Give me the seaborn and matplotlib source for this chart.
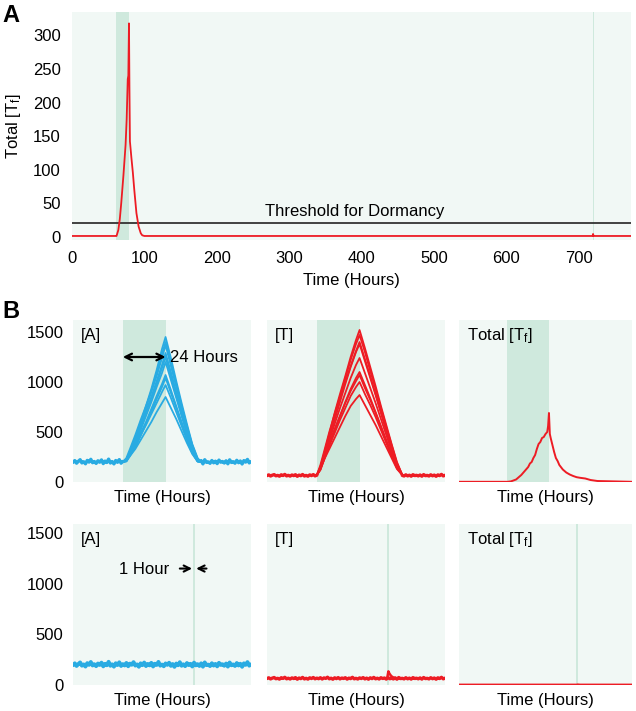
import numpy as np
import pandas as pd
import matplotlib
matplotlib.use("Agg")
import matplotlib.pyplot as plt
import seaborn as sns

# ---- panel A : total [Tf] over the full run ----
a_time = [0, 60, 61.5, 64, 66, 68, 71, 74, 75.5, 77, 77.8, 78.7, 79.3, 80, 81, 82, 84, 86, 89, 92,
          95, 97, 100, 300, 500, 719, 719.6, 720.3, 721, 772]
a_total = [1, 1, 1, 10, 26, 50, 91, 137, 175, 235, 240, 318, 225, 142, 130, 118, 96, 70, 35, 15,
           5, 2, 1, 1, 1, 1, 4, 1, 1, 1]
a_band = (61, 79)
a_pulse = (719.5, 720.5)
threshold = 20
a_xticks = [0, 100, 200, 300, 400, 500, 600, 700]
a_yticks = [0, 50, 100, 150, 200, 250, 300]

# ---- panel B, top row : 24 hour pulse ----
pulse24 = (28, 52)
pulse1 = (67.4, 68.7)

A_times = [28, 30, 32, 35, 38, 41, 44, 47, 50, 52, 55, 58, 61, 64, 67, 70, 72]
A_traces = [
    [200, 215, 300, 420, 590, 760, 930, 1120, 1330, 1450, 1240, 1010, 790, 580, 380, 240, 200],
    [200, 230, 290, 440, 570, 740, 910, 1090, 1280, 1400, 1190, 980, 760, 560, 370, 230, 200],
    [200, 240, 330, 470, 620, 760, 900, 1060, 1240, 1370, 1160, 950, 740, 540, 360, 220, 200],
    [200, 210, 270, 400, 540, 700, 850, 1010, 1170, 1290, 1100, 900, 700, 510, 340, 220, 200],
    [200, 225, 300, 430, 560, 700, 840, 980, 1140, 1250, 1060, 870, 680, 500, 330, 215, 200],
    [200, 210, 280, 390, 520, 660, 800, 950, 1090, 1200, 1020, 840, 660, 480, 320, 210, 200],
    [200, 220, 290, 380, 490, 600, 730, 860, 980, 1070, 920, 760, 600, 450, 300, 210, 200],
    [200, 205, 260, 350, 460, 580, 700, 830, 950, 1040, 890, 740, 590, 440, 300, 205, 200],
    [200, 230, 280, 360, 470, 570, 680, 790, 900, 970, 840, 700, 560, 420, 290, 205, 200],
    [200, 215, 260, 330, 420, 510, 600, 700, 790, 850, 740, 630, 510, 390, 280, 205, 200],
]

T_times = [28, 30, 32, 35, 38, 41, 44, 47, 50, 52, 55, 58, 61, 64, 67, 70, 73, 76]
T_traces = [
    [70, 150, 280, 480, 690, 880, 1060, 1250, 1420, 1520, 1340, 1150, 960, 760, 570, 380, 200, 70],
    [70, 140, 260, 470, 660, 850, 1040, 1220, 1380, 1470, 1300, 1110, 930, 740, 550, 370, 190, 70],
    [70, 170, 300, 500, 680, 850, 1000, 1160, 1310, 1400, 1230, 1060, 880, 700, 520, 340, 180, 70],
    [70, 130, 240, 430, 620, 800, 980, 1150, 1300, 1380, 1210, 1040, 870, 690, 510, 330, 170, 70],
    [70, 140, 250, 420, 580, 740, 890, 1040, 1170, 1240, 1090, 940, 790, 630, 470, 310, 160, 70],
    [70, 120, 220, 380, 520, 660, 800, 930, 1040, 1100, 970, 840, 700, 560, 420, 280, 150, 70],
    [70, 150, 250, 390, 530, 660, 790, 910, 1010, 1070, 940, 820, 690, 550, 410, 270, 140, 70],
    [70, 125, 220, 360, 490, 620, 740, 860, 950, 1000, 880, 770, 650, 520, 390, 260, 140, 70],
    [70, 135, 220, 330, 440, 550, 660, 760, 830, 870, 770, 670, 570, 460, 350, 240, 130, 70],
]

Tf_times = [0, 28, 30, 33, 36, 38, 40, 41, 42, 43, 44, 45, 46, 47, 48, 49, 50, 51, 51.5, 52,
            52.5, 53, 54, 55, 56, 57, 58, 60, 62, 64, 66, 68, 70, 73, 76, 80, 100]
Tf_values = [2, 2, 6, 25, 70, 110, 150, 185, 200, 240, 270, 330, 380, 400, 440, 450, 480, 500, 560, 690,
             480, 440, 370, 300, 240, 210, 170, 125, 95, 75, 60, 48, 42, 35, 20, 10, 2]

# hourly baseline noise, 0..100 h
A_noise = [196, 214, 188, 207, 223, 191, 203, 182, 216, 199,
           227, 193, 205, 186, 212, 198, 221, 184, 209, 195,
           229, 190, 204, 181, 215, 197, 224, 188, 206, 193,
           218, 185, 211, 200, 226, 192, 203, 180, 214, 196,
           222, 187, 208, 194, 219, 183, 210, 198, 228, 191,
           202, 185, 213, 199, 220, 189, 207, 179, 212, 195,
           225, 190, 204, 186, 217, 197, 209, 183, 221, 194,
           206, 188, 214, 181, 223, 196, 201, 187, 215, 192,
           208, 184, 219, 198, 205, 190, 212, 182, 222, 195,
           203, 188, 217, 193, 210, 180, 214, 199, 226, 191,
           204]
T_noise = [64, 71, 60, 68, 74, 62, 66, 58, 72, 65,
           76, 61, 67, 59, 70, 64, 73, 57, 69, 63,
           75, 60, 66, 58, 71, 64, 74, 61, 68, 62,
           72, 59, 70, 65, 77, 61, 67, 57, 71, 63,
           73, 60, 69, 64, 72, 58, 68, 63, 76, 61,
           66, 59, 70, 64, 73, 60, 68, 57, 71, 63,
           75, 61, 67, 59, 72, 64, 69, 58, 73, 62,
           67, 60, 71, 57, 74, 63, 66, 60, 72, 61,
           68, 58, 73, 64, 67, 61, 70, 58, 74, 63,
           66, 60, 72, 62, 69, 57, 71, 64, 76, 61,
           67]

# ---- panel B, bottom row : 1 hour pulse ----
T_bump_t = [67.5, 68.2, 68.8, 69.8, 71.5]
T_bump_v = [66, 135, 112, 88, 68]
Tf_low_t = [0, 68, 68.6, 70, 100]
Tf_low_v = [3, 3, 5, 3, 3]

B_yticks = [0, 500, 1000, 1500]

BG = "#f1f8f5"
BAND = "#cfe9dd"
BLUE = "#29abe2"
RED = "#ed1c24"

sns.set_style("white")
plt.rcParams['font.family'] = ['Liberation Sans', 'DejaVu Sans']
plt.rcParams['mathtext.default'] = 'regular'
plt.rcParams['font.size'] = 12
for key in ["text.color", "axes.labelcolor", "xtick.color", "ytick.color"]:
    plt.rcParams[key] = "black"


def clean(ax):
    ax.set_facecolor(BG)
    for s in ax.spines.values():
        s.set_visible(False)
    ax.tick_params(length=0, labelsize=12, labelcolor="black")


def traces_df(times, traces):
    rows = [(t, v, i) for i, tr in enumerate(traces) for t, v in zip(times, tr)]
    return pd.DataFrame(rows, columns=["t", "v", "trace"])


def noise_df(noise, lo, hi):
    t = np.linspace(0, 100, len(noise))
    df = pd.DataFrame({"t": t, "v": noise})
    df["seg"] = np.where(df.t <= lo, 0, np.where(df.t >= hi, 1, -1))
    return df[df.seg >= 0]


fig = plt.figure(figsize=(6.36, 7.11), dpi=100)

# panel A
ax = fig.add_axes([72 / 636, 1 - 240 / 711, 559 / 636, 228 / 711])
clean(ax)
ax.axvspan(*a_band, color=BAND, lw=0)
ax.axvspan(*a_pulse, color=BAND, lw=0)
ax.axhline(threshold, color="#333333", lw=1.3)
sns.lineplot(x=a_time, y=a_total, ax=ax, color=RED, lw=1.3)
ax.text(390, threshold + 6, "Threshold for Dormancy", ha="center", va="bottom", fontsize=12)
ax.set_xlim(0, 772)
ax.set_ylim(-5, 335)
ax.set_xticks(a_xticks)
ax.set_yticks(a_yticks)
ax.tick_params(axis="x", pad=8)
ax.tick_params(axis="y", pad=8)
ax.set_xlabel("Time (Hours)", fontsize=12, labelpad=5)
ax.set_ylabel("Total [T$_f$]", fontsize=12, labelpad=7)

# panel B
cols = [(73, 178), (267, 178), (459, 173)]
rows = [(320, 162, 1620), (524, 161, 1590)]
axes = [[fig.add_axes([x / 636, 1 - (top + h) / 711, w / 636, h / 711]) for (x, w) in cols]
        for (top, h, _) in rows]

for r, (top, h, ymax) in enumerate(rows):
    for c in range(3):
        ax = axes[r][c]
        clean(ax)
        band = pulse24 if r == 0 else pulse1
        ax.axvspan(*band, color=BAND, lw=0)
        ax.set_xlim(0, 100)
        ax.set_ylim(0, ymax)
        ax.set_xticks([])
        if c == 0:
            ax.set_yticks(B_yticks)
            ax.tick_params(axis="y", pad=7)
        else:
            ax.set_yticks([])
        ax.set_xlabel("Time (Hours)", fontsize=12, labelpad=6)

# top row
ax = axes[0][0]
sns.lineplot(data=noise_df(A_noise, pulse24[0], 72), x="t", y="v", units="seg", estimator=None,
             ax=ax, color=BLUE, lw=2.4)
sns.lineplot(data=traces_df(A_times, A_traces), x="t", y="v", units="trace", estimator=None,
             ax=ax, color=BLUE, lw=1.3)
ax.annotate("", xy=(pulse24[0], 1250), xytext=(pulse24[1], 1250),
            arrowprops=dict(arrowstyle="<->", lw=1.6, color="black", mutation_scale=12,
                            shrinkA=0, shrinkB=0))
ax.text(54.5, 1250, "24 Hours", va="center", ha="left", fontsize=12)

ax = axes[0][1]
sns.lineplot(data=noise_df(T_noise, pulse24[0], 76), x="t", y="v", units="seg", estimator=None,
             ax=ax, color=RED, lw=2.4)
sns.lineplot(data=traces_df(T_times, T_traces), x="t", y="v", units="trace", estimator=None,
             ax=ax, color=RED, lw=1.3)

ax = axes[0][2]
sns.lineplot(x=Tf_times, y=Tf_values, ax=ax, color=RED, lw=1.4)

# bottom row
ax = axes[1][0]
sns.lineplot(x=np.linspace(0, 100, len(A_noise)), y=A_noise, ax=ax, color=BLUE, lw=2.8)
ax.text(26, 1140, "1 Hour", va="center", ha="left", fontsize=12)
ax.annotate("", xy=(pulse1[0] - 0.5, 1150), xytext=(60, 1150),
            arrowprops=dict(arrowstyle="->", lw=1.5, color="black", mutation_scale=11,
                            shrinkA=0, shrinkB=0))
ax.annotate("", xy=(pulse1[1] + 0.5, 1150), xytext=(75, 1150),
            arrowprops=dict(arrowstyle="->", lw=1.5, color="black", mutation_scale=11,
                            shrinkA=0, shrinkB=0))

ax = axes[1][1]
sns.lineplot(x=np.linspace(0, 100, len(T_noise)), y=T_noise, ax=ax, color=RED, lw=2.4)
sns.lineplot(x=T_bump_t, y=T_bump_v, ax=ax, color=RED, lw=1.8)

ax = axes[1][2]
sns.lineplot(x=Tf_low_t, y=Tf_low_v, ax=ax, color=RED, lw=1.6)

labels = ["[A]", "[T]", "Total [T$_f$]"]
for r in range(2):
    for c in range(3):
        axes[r][c].text(0.045, 0.905, labels[c], transform=axes[r][c].transAxes,
                        va="center", ha="left", fontsize=12)
        axes[r][c].set_ylabel("")

fig.text(2 / 636, 1 - 15 / 711, "A", fontsize=17, fontweight="bold", va="center", ha="left")
fig.text(2 / 636, 1 - 312 / 711, "B", fontsize=17, fontweight="bold", va="center", ha="left")

fig.savefig("out.png", dpi=100)
